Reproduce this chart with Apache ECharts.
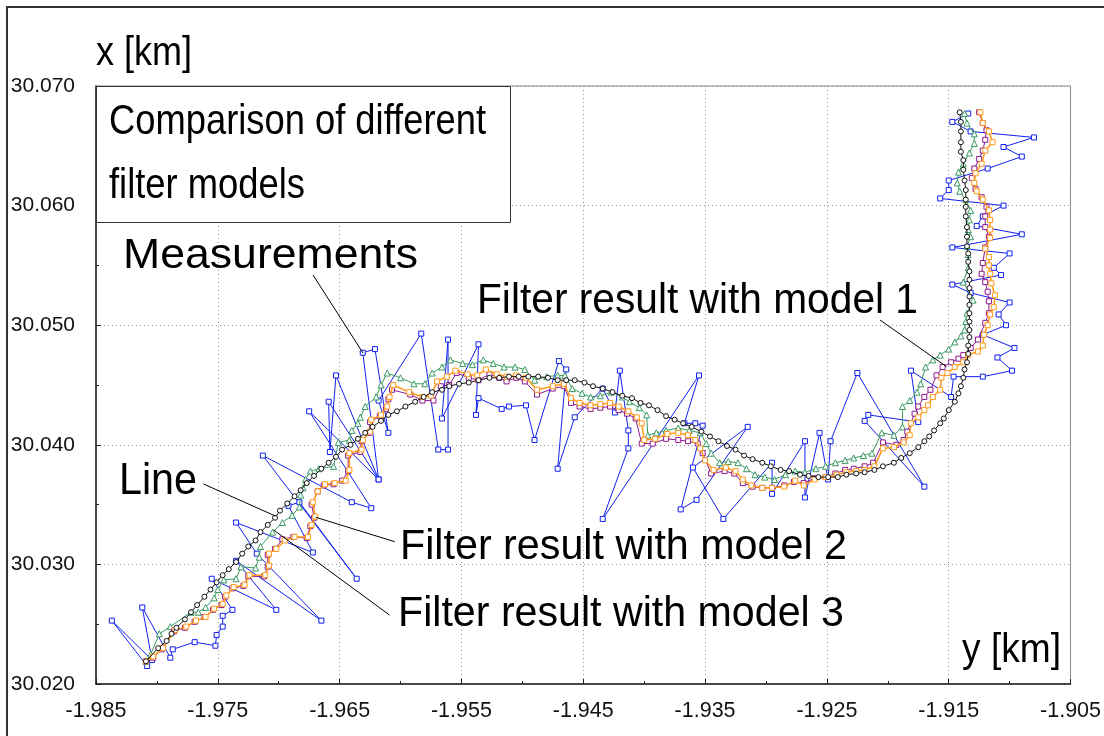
<!DOCTYPE html>
<html><head><meta charset="utf-8">
<script src="https://cdn.jsdelivr.net/npm/echarts@6/dist/echarts.min.js"></script>
<style>html,body{margin:0;padding:0;background:#fff}#c{width:1104px;height:736px}</style>
</head><body><div id="c"></div>
<script>
// ---- data (km) ----
const xRange = [-1.985, -1.905];
const yRange = [30.020, 30.070];
const tickStep = 0.01;

const truthLine = [[-1.9809,30.0219],[-1.9799,30.0230],[-1.9792,30.0236],[-1.9788,30.0242],[-1.9784,30.0247],[-1.9777,30.0254],[-1.9772,30.0260],[-1.9767,30.0266],[-1.9761,30.0273],[-1.9756,30.0279],[-1.9751,30.0285],[-1.9746,30.0291],[-1.9741,30.0296],[-1.9735,30.0302],[-1.9730,30.0309],[-1.9725,30.0315],[-1.9719,30.0320],[-1.9715,30.0327],[-1.9709,30.0333],[-1.9703,30.0339],[-1.9699,30.0345],[-1.9693,30.0351],[-1.9687,30.0357],[-1.9682,30.0362],[-1.9677,30.0368],[-1.9671,30.0374],[-1.9665,30.0380],[-1.9659,30.0385],[-1.9653,30.0390],[-1.9648,30.0396],[-1.9641,30.0400],[-1.9635,30.0405],[-1.9629,30.0410],[-1.9623,30.0415],[-1.9616,30.0420],[-1.9610,30.0425],[-1.9603,30.0428],[-1.9596,30.0432],[-1.9588,30.0436],[-1.9581,30.0440],[-1.9574,30.0444],[-1.9566,30.0446],[-1.9560,30.0449],[-1.9552,30.0451],[-1.9544,30.0452],[-1.9536,30.0454],[-1.9527,30.0456],[-1.9519,30.0456],[-1.9511,30.0457],[-1.9503,30.0457],[-1.9495,30.0457],[-1.9487,30.0457],[-1.9479,30.0456],[-1.9471,30.0454],[-1.9464,30.0454],[-1.9457,30.0454],[-1.9449,30.0452],[-1.9442,30.0449],[-1.9434,30.0447],[-1.9426,30.0444],[-1.9418,30.0441],[-1.9410,30.0439],[-1.9403,30.0435],[-1.9396,30.0433],[-1.9389,30.0429],[-1.9382,30.0424],[-1.9375,30.0421],[-1.9368,30.0418],[-1.9361,30.0415],[-1.9353,30.0411],[-1.9346,30.0407],[-1.9339,30.0403],[-1.9332,30.0399],[-1.9325,30.0396],[-1.9318,30.0391],[-1.9311,30.0388],[-1.9303,30.0385],[-1.9296,30.0382],[-1.9288,30.0379],[-1.9281,30.0378],[-1.9272,30.0375],[-1.9265,30.0374],[-1.9257,30.0373],[-1.9249,30.0373],[-1.9241,30.0373],[-1.9234,30.0375],[-1.9226,30.0376],[-1.9219,30.0377],[-1.9211,30.0379],[-1.9204,30.0382],[-1.9195,30.0385],[-1.9189,30.0389],[-1.9182,30.0393],[-1.9175,30.0398],[-1.9170,30.0403],[-1.9166,30.0407],[-1.9162,30.0412],[-1.9157,30.0418],[-1.9154,30.0422],[-1.9150,30.0429],[-1.9145,30.0436],[-1.9142,30.0443],[-1.9140,30.0449],[-1.9138,30.0456],[-1.9137,30.0463],[-1.9135,30.0469],[-1.9134,30.0476],[-1.9134,30.0483],[-1.9133,30.0490],[-1.9133,30.0496],[-1.9133,30.0503],[-1.9133,30.0510],[-1.9133,30.0517],[-1.9133,30.0524],[-1.9133,30.0531],[-1.9133,30.0538],[-1.9133,30.0545],[-1.9134,30.0553],[-1.9134,30.0560],[-1.9135,30.0566],[-1.9135,30.0574],[-1.9135,30.0582],[-1.9136,30.0591],[-1.9136,30.0599],[-1.9136,30.0605],[-1.9136,30.0613],[-1.9137,30.0621],[-1.9138,30.0630],[-1.9138,30.0638],[-1.9140,30.0645],[-1.9140,30.0653],[-1.9140,30.0662],[-1.9140,30.0670],[-1.9141,30.0678]];

const model1 = [[-1.9809,30.0219],[-1.9805,30.0225],[-1.9798,30.0242],[-1.9789,30.0248],[-1.9772,30.0260],[-1.9766,30.0260],[-1.9760,30.0264],[-1.9753,30.0272],[-1.9750,30.0279],[-1.9745,30.0287],[-1.9735,30.0288],[-1.9731,30.0298],[-1.9719,30.0297],[-1.9716,30.0306],[-1.9715,30.0315],[-1.9705,30.0327],[-1.9697,30.0335],[-1.9689,30.0341],[-1.9683,30.0348],[-1.9682,30.0358],[-1.9680,30.0364],[-1.9678,30.0371],[-1.9674,30.0378],[-1.9667,30.0380],[-1.9655,30.0382],[-1.9651,30.0402],[-1.9642,30.0404],[-1.9640,30.0412],[-1.9635,30.0418],[-1.9633,30.0423],[-1.9629,30.0432],[-1.9620,30.0440],[-1.9616,30.0450],[-1.9611,30.0460],[-1.9600,30.0456],[-1.9589,30.0451],[-1.9580,30.0451],[-1.9574,30.0460],[-1.9566,30.0465],[-1.9559,30.0471],[-1.9549,30.0468],[-1.9541,30.0467],[-1.9532,30.0471],[-1.9524,30.0468],[-1.9515,30.0465],[-1.9506,30.0465],[-1.9498,30.0463],[-1.9490,30.0454],[-1.9480,30.0457],[-1.9471,30.0458],[-1.9465,30.0458],[-1.9459,30.0447],[-1.9451,30.0443],[-1.9444,30.0440],[-1.9436,30.0441],[-1.9427,30.0444],[-1.9418,30.0440],[-1.9412,30.0436],[-1.9404,30.0431],[-1.9398,30.0425],[-1.9397,30.0408],[-1.9390,30.0410],[-1.9382,30.0412],[-1.9372,30.0414],[-1.9363,30.0412],[-1.9354,30.0410],[-1.9349,30.0401],[-1.9345,30.0393],[-1.9338,30.0385],[-1.9331,30.0386],[-1.9323,30.0385],[-1.9316,30.0380],[-1.9309,30.0375],[-1.9301,30.0373],[-1.9293,30.0371],[-1.9284,30.0375],[-1.9276,30.0378],[-1.9268,30.0377],[-1.9259,30.0380],[-1.9251,30.0382],[-1.9243,30.0385],[-1.9235,30.0387],[-1.9228,30.0389],[-1.9220,30.0391],[-1.9213,30.0393],[-1.9205,30.0410],[-1.9195,30.0408],[-1.9188,30.0415],[-1.9188,30.0432],[-1.9182,30.0437],[-1.9176,30.0444],[-1.9173,30.0451],[-1.9169,30.0465],[-1.9163,30.0471],[-1.9157,30.0475],[-1.9150,30.0480],[-1.9145,30.0486],[-1.9140,30.0491],[-1.9137,30.0496],[-1.9136,30.0503],[-1.9135,30.0510],[-1.9130,30.0521],[-1.9138,30.0536],[-1.9134,30.0548],[-1.9134,30.0559],[-1.9135,30.0566],[-1.9132,30.0574],[-1.9134,30.0580],[-1.9133,30.0588],[-1.9132,30.0596],[-1.9136,30.0605],[-1.9141,30.0612],[-1.9143,30.0619],[-1.9142,30.0628],[-1.9138,30.0635],[-1.9133,30.0644],[-1.9129,30.0652],[-1.9129,30.0660],[-1.9135,30.0669],[-1.9137,30.0677]];

const model2 = [[-1.9809,30.0219],[-1.9803,30.0222],[-1.9796,30.0229],[-1.9786,30.0244],[-1.9777,30.0247],[-1.9769,30.0252],[-1.9761,30.0256],[-1.9754,30.0262],[-1.9747,30.0266],[-1.9744,30.0273],[-1.9738,30.0280],[-1.9729,30.0282],[-1.9725,30.0290],[-1.9712,30.0290],[-1.9709,30.0298],[-1.9709,30.0308],[-1.9703,30.0313],[-1.9697,30.0321],[-1.9688,30.0323],[-1.9677,30.0322],[-1.9674,30.0332],[-1.9671,30.0339],[-1.9673,30.0350],[-1.9668,30.0361],[-1.9663,30.0366],[-1.9655,30.0367],[-1.9648,30.0370],[-1.9643,30.0378],[-1.9643,30.0391],[-1.9633,30.0394],[-1.9632,30.0403],[-1.9626,30.0410],[-1.9625,30.0419],[-1.9617,30.0424],[-1.9612,30.0430],[-1.9610,30.0438],[-1.9607,30.0446],[-1.9592,30.0442],[-1.9582,30.0437],[-1.9573,30.0437],[-1.9567,30.0449],[-1.9560,30.0450],[-1.9554,30.0460],[-1.9544,30.0456],[-1.9536,30.0454],[-1.9527,30.0459],[-1.9519,30.0456],[-1.9513,30.0453],[-1.9505,30.0456],[-1.9498,30.0453],[-1.9488,30.0442],[-1.9475,30.0447],[-1.9466,30.0449],[-1.9460,30.0435],[-1.9453,30.0432],[-1.9444,30.0430],[-1.9436,30.0431],[-1.9428,30.0432],[-1.9421,30.0429],[-1.9414,30.0426],[-1.9407,30.0422],[-1.9402,30.0401],[-1.9393,30.0401],[-1.9382,30.0405],[-1.9372,30.0404],[-1.9364,30.0403],[-1.9356,30.0401],[-1.9352,30.0393],[-1.9345,30.0376],[-1.9334,30.0378],[-1.9326,30.0376],[-1.9319,30.0368],[-1.9311,30.0365],[-1.9303,30.0364],[-1.9295,30.0364],[-1.9285,30.0366],[-1.9277,30.0369],[-1.9269,30.0368],[-1.9260,30.0372],[-1.9251,30.0373],[-1.9243,30.0376],[-1.9235,30.0379],[-1.9228,30.0380],[-1.9219,30.0382],[-1.9212,30.0385],[-1.9204,30.0402],[-1.9193,30.0400],[-1.9187,30.0404],[-1.9184,30.0411],[-1.9178,30.0426],[-1.9175,30.0432],[-1.9170,30.0440],[-1.9165,30.0446],[-1.9160,30.0458],[-1.9155,30.0465],[-1.9148,30.0469],[-1.9142,30.0472],[-1.9138,30.0475],[-1.9132,30.0481],[-1.9126,30.0488],[-1.9120,30.0502],[-1.9117,30.0510],[-1.9117,30.0520],[-1.9118,30.0528],[-1.9120,30.0536],[-1.9123,30.0543],[-1.9122,30.0552],[-1.9120,30.0565],[-1.9117,30.0574],[-1.9120,30.0582],[-1.9120,30.0591],[-1.9119,30.0599],[-1.9123,30.0607],[-1.9128,30.0614],[-1.9131,30.0623],[-1.9129,30.0631],[-1.9125,30.0639],[-1.9122,30.0646],[-1.9120,30.0655],[-1.9119,30.0663],[-1.9122,30.0669],[-1.9125,30.0678]];

const model3 = [[-1.9809,30.0219],[-1.9803,30.0223],[-1.9795,30.0230],[-1.9785,30.0245],[-1.9776,30.0248],[-1.9768,30.0253],[-1.9760,30.0256],[-1.9753,30.0263],[-1.9746,30.0267],[-1.9743,30.0274],[-1.9737,30.0281],[-1.9728,30.0283],[-1.9724,30.0291],[-1.9711,30.0291],[-1.9708,30.0299],[-1.9708,30.0309],[-1.9702,30.0313],[-1.9695,30.0320],[-1.9687,30.0323],[-1.9676,30.0323],[-1.9673,30.0333],[-1.9670,30.0340],[-1.9672,30.0352],[-1.9668,30.0361],[-1.9662,30.0367],[-1.9654,30.0368],[-1.9645,30.0370],[-1.9642,30.0379],[-1.9642,30.0393],[-1.9632,30.0396],[-1.9631,30.0404],[-1.9625,30.0411],[-1.9624,30.0421],[-1.9616,30.0425],[-1.9611,30.0432],[-1.9609,30.0440],[-1.9606,30.0450],[-1.9593,30.0444],[-1.9582,30.0440],[-1.9575,30.0441],[-1.9570,30.0453],[-1.9562,30.0457],[-1.9555,30.0462],[-1.9545,30.0459],[-1.9537,30.0458],[-1.9530,30.0463],[-1.9521,30.0459],[-1.9513,30.0457],[-1.9505,30.0458],[-1.9497,30.0456],[-1.9488,30.0446],[-1.9475,30.0449],[-1.9466,30.0451],[-1.9460,30.0439],[-1.9453,30.0435],[-1.9444,30.0433],[-1.9436,30.0434],[-1.9428,30.0435],[-1.9421,30.0432],[-1.9413,30.0428],[-1.9406,30.0423],[-1.9402,30.0418],[-1.9400,30.0404],[-1.9391,30.0405],[-1.9381,30.0409],[-1.9372,30.0410],[-1.9364,30.0408],[-1.9358,30.0404],[-1.9354,30.0397],[-1.9350,30.0387],[-1.9343,30.0379],[-1.9333,30.0381],[-1.9325,30.0378],[-1.9319,30.0371],[-1.9312,30.0366],[-1.9303,30.0364],[-1.9295,30.0364],[-1.9285,30.0365],[-1.9276,30.0370],[-1.9269,30.0366],[-1.9260,30.0371],[-1.9251,30.0373],[-1.9242,30.0375],[-1.9234,30.0377],[-1.9226,30.0378],[-1.9219,30.0379],[-1.9211,30.0382],[-1.9204,30.0397],[-1.9195,30.0398],[-1.9187,30.0402],[-1.9182,30.0408],[-1.9181,30.0418],[-1.9175,30.0423],[-1.9170,30.0429],[-1.9167,30.0433],[-1.9163,30.0440],[-1.9157,30.0446],[-1.9156,30.0456],[-1.9151,30.0460],[-1.9145,30.0465],[-1.9138,30.0469],[-1.9134,30.0475],[-1.9126,30.0478],[-1.9122,30.0483],[-1.9121,30.0492],[-1.9118,30.0500],[-1.9116,30.0509],[-1.9113,30.0515],[-1.9112,30.0525],[-1.9115,30.0535],[-1.9116,30.0543],[-1.9117,30.0550],[-1.9117,30.0557],[-1.9120,30.0564],[-1.9116,30.0573],[-1.9116,30.0580],[-1.9116,30.0588],[-1.9117,30.0596],[-1.9122,30.0605],[-1.9127,30.0612],[-1.9129,30.0619],[-1.9128,30.0627],[-1.9123,30.0635],[-1.9120,30.0646],[-1.9114,30.0653],[-1.9117,30.0662],[-1.9122,30.0669],[-1.9124,30.0678]];

const measurements = [[-1.9808,30.0215],[-1.9837,30.0253],[-1.9804,30.0220],[-1.9812,30.0264],[-1.9789,30.0222],[-1.9787,30.0229],[-1.9769,30.0235],[-1.9752,30.0232],[-1.9751,30.0241],[-1.9746,30.0248],[-1.9746,30.0257],[-1.9738,30.0262],[-1.9755,30.0288],[-1.9702,30.0262],[-1.9735,30.0303],[-1.9665,30.0253],[-1.9718,30.0309],[-1.9735,30.0335],[-1.9672,30.0310],[-1.9692,30.0349],[-1.9683,30.0352],[-1.9636,30.0288],[-1.9713,30.0391],[-1.9640,30.0352],[-1.9624,30.0347],[-1.9675,30.0428],[-1.9618,30.0371],[-1.9659,30.0436],[-1.9658,30.0394],[-1.9653,30.0458],[-1.9618,30.0371],[-1.9631,30.0477],[-1.9621,30.0480],[-1.9610,30.0410],[-1.9618,30.0437],[-1.9583,30.0493],[-1.9569,30.0396],[-1.9561,30.0396],[-1.9561,30.0488],[-1.9566,30.0422],[-1.9536,30.0484],[-1.9538,30.0425],[-1.9536,30.0439],[-1.9517,30.0430],[-1.9511,30.0432],[-1.9497,30.0433],[-1.9490,30.0404],[-1.9470,30.0470],[-1.9464,30.0463],[-1.9471,30.0380],[-1.9457,30.0423],[-1.9434,30.0447],[-1.9424,30.0427],[-1.9420,30.0462],[-1.9413,30.0412],[-1.9413,30.0397],[-1.9434,30.0338],[-1.9355,30.0458],[-1.9367,30.0418],[-1.9358,30.0418],[-1.9352,30.0416],[-1.9370,30.0346],[-1.9357,30.0354],[-1.9315,30.0415],[-1.9360,30.0381],[-1.9335,30.0338],[-1.9295,30.0385],[-1.9295,30.0359],[-1.9268,30.0403],[-1.9268,30.0356],[-1.9256,30.0410],[-1.9249,30.0371],[-1.9247,30.0403],[-1.9225,30.0460],[-1.9170,30.0365],[-1.9219,30.0420],[-1.9216,30.0425],[-1.9175,30.0419],[-1.9181,30.0462],[-1.9148,30.0440],[-1.9146,30.0457],[-1.9122,30.0457],[-1.9098,30.0462],[-1.9110,30.0473],[-1.9096,30.0481],[-1.9122,30.0492],[-1.9103,30.0500],[-1.9109,30.0509],[-1.9100,30.0519],[-1.9132,30.0527],[-1.9147,30.0534],[-1.9107,30.0542],[-1.9113,30.0548],[-1.9100,30.0560],[-1.9147,30.0565],[-1.9090,30.0576],[-1.9127,30.0583],[-1.9122,30.0591],[-1.9105,30.0600],[-1.9157,30.0606],[-1.9150,30.0613],[-1.9150,30.0621],[-1.9118,30.0631],[-1.9090,30.0641],[-1.9105,30.0649],[-1.9080,30.0657],[-1.9132,30.0662],[-1.9147,30.0670],[-1.9134,30.0677]];

// ---- rendering ----
const chart = echarts.init(document.getElementById('c'), null, {renderer: 'canvas'});
const mctx = document.createElement('canvas').getContext('2d');
const ANN_FONT = 'Liberation Sans';
function fitText(text, left, cy, size, width) {
  mctx.font = size + 'px "' + ANN_FONT + '"';
  const w = mctx.measureText(text).width;
  return {type: 'text', x: left, y: cy, scaleX: width / w, z: 100,
    style: {text: text, fontSize: size, fontFamily: ANN_FONT, fill: '#000', align: 'left', verticalAlign: 'middle'}};
}
function leader(x1, y1, x2, y2) {
  return {type: 'line', z: 100, shape: {x1, y1, x2, y2}, style: {stroke: '#000', lineWidth: 1}};
}
function mkSeries(name, data, color, symbol, size, width, z) {
  return {name, type: 'line', data, z, symbol, symbolSize: size, showSymbol: true,
    lineStyle: {color, width}, itemStyle: {color: '#fff', borderColor: color, borderWidth: 1},
    emphasis: {disabled: true}, animation: false, clip: false};
}
const fmt = v => v.toFixed(3);
chart.setOption({
  backgroundColor: '#fff',
  animation: false,
  grid: {left: 96, right: 30, top: 86, bottom: 52, show: true, borderColor: '#8a8a8a', borderWidth: 1},
  xAxis: {type: 'value', min: xRange[0], max: xRange[1], interval: tickStep,
    axisLine: {onZero: false, lineStyle: {color: '#222', width: 1.5}},
    axisTick: {inside: true, length: 5, lineStyle: {color: '#222'}},
    minorTick: {show: true, splitNumber: 2, length: 3, lineStyle: {color: '#222'}},
    axisLabel: {formatter: fmt, fontFamily: 'Liberation Sans', fontSize: 21.5, color: '#111', margin: 16},
    splitLine: {show: true, lineStyle: {type: [1, 3], color: '#999'}}},
  yAxis: {type: 'value', min: yRange[0], max: yRange[1], interval: tickStep,
    axisLine: {onZero: false, lineStyle: {color: '#222', width: 1.5}},
    axisTick: {inside: true, length: 5, lineStyle: {color: '#222'}},
    minorTick: {show: true, splitNumber: 2, length: 3, lineStyle: {color: '#222'}},
    axisLabel: {formatter: fmt, fontFamily: 'Liberation Sans', fontSize: 21, color: '#111', margin: 21, padding: [0, 0, 7, 0]},
    splitLine: {show: true, lineStyle: {type: [1, 3], color: '#999'}}},
  series: [
    mkSeries('Measurements', measurements, '#1020f0', 'rect', 5, 1, 2),
    mkSeries('Filter result with model 1', model1, '#3a9a62', 'triangle', 6, 1, 3),
    mkSeries('Filter result with model 2', model2, '#8e1a8e', 'rect', 5, 1, 4),
    mkSeries('Filter result with model 3', model3, '#ff9a1a', 'rect', 5, 1.5, 5),
    mkSeries('Line', truthLine, '#111111', 'circle', 5, 1, 6)
  ],
  graphic: {elements: [
    {type: 'rect', z: 0, shape: {x: 7, y: 7, width: 1200, height: 800}, style: {fill: 'none', stroke: '#333', lineWidth: 2}},
    {type: 'rect', z: 90, shape: {x: 96.5, y: 86.5, width: 414, height: 136}, style: {fill: '#fff', stroke: '#333', lineWidth: 1}},
    fitText('x [km]', 96, 54, 40, 96),
    fitText('y [km]', 962, 651, 40, 99),
    fitText('Comparison of different', 109, 122, 43, 377),
    fitText('filter models', 109, 186, 43, 196),
    fitText('Measurements', 123, 256, 43, 295),
    fitText('Filter result with model 1', 477, 301, 43, 441),
    fitText('Line', 119, 482, 44, 78),
    fitText('Filter result with model 2', 400, 547, 43, 447),
    fitText('Filter result with model 3', 398, 614, 43, 446),
    leader(313, 275, 363, 353),
    leader(880, 320, 946.5, 366.7),
    leader(203.5, 484, 275.4, 516),
    leader(394.7, 541.7, 315.8, 517.3),
    leader(389.5, 615, 273.7, 530)
  ]}
});
</script>
</body></html>
